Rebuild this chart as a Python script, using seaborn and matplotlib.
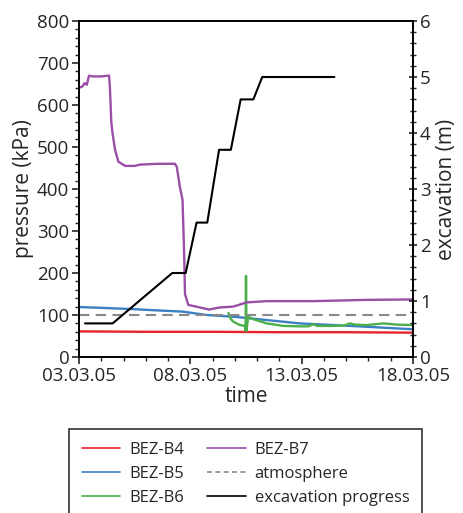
import matplotlib
matplotlib.use("Agg")
import matplotlib.pyplot as plt
import matplotlib.dates as mdates
from matplotlib.ticker import MultipleLocator
from matplotlib.lines import Line2D
import seaborn as sns
import pandas as pd

sns.set_style("white")
plt.rcParams['font.family'] = ['Open Sans', 'DejaVu Sans']

START = pd.Timestamp("2005-03-03")

# ---- data (days since 03.03.05) ----
b4_days = [0.0, 3.0, 6.0, 9.0, 12.0, 15.0]
b4_kpa = [61, 60, 60, 59, 59, 58]

b5_days = [0.0, 1.0, 2.43, 3.5, 4.67, 5.73, 6.93, 8.43, 9.92, 11.42, 12.92, 15.0]
b5_kpa = [119, 117, 114, 111, 108, 100, 96, 88, 80, 76, 72, 66]

b6_days = [6.71, 6.80, 6.93, 7.23, 7.45, 7.48, 7.50, 7.52, 7.60, 7.83, 8.43, 9.17,
           9.92, 10.3, 10.52, 10.7, 11.42, 11.9, 12.17, 12.4, 12.92, 13.67, 14.3, 15.0]
b6_kpa = [105, 92, 84, 76, 74, 62, 193, 62, 96, 90, 80, 74,
          73, 73, 78, 74, 74, 75, 80, 77, 76, 80, 77, 76]

b7_days = [0.0, 0.15, 0.25, 0.35, 0.45, 0.6, 1.0, 1.35, 1.39, 1.45, 1.5, 1.62, 1.77,
           2.07, 2.5, 2.74, 3.5, 4.31, 4.39, 4.53, 4.65, 4.72, 4.76, 4.91, 5.43,
           5.84, 6.33, 6.93, 7.53, 8.43, 10.52, 12.92, 15.0]
b7_kpa = [641, 644, 652, 648, 670, 668, 668, 670, 640, 560, 535, 493, 465,
          455, 455, 458, 460, 460, 453, 405, 374, 250, 150, 124, 118,
          113, 118, 120, 130, 133, 133, 136, 137]

atm_days = [0.0, 15.0]
atm_kpa = [100, 100]

exc_days = [0.27, 1.51, 4.19, 4.79, 5.28, 5.76, 6.29, 6.82, 7.26, 7.83, 8.23, 11.47]
exc_m = [0.6, 0.6, 1.5, 1.5, 2.4, 2.4, 3.7, 3.7, 4.6, 4.6, 5.0, 5.0]

xtick_labels = ["03.03.05", "08.03.05", "13.03.05", "18.03.05"]
xtick_days = [0, 5, 10, 15]

labels = ["BEZ-B4", "BEZ-B5", "BEZ-B6", "BEZ-B7", "atmosphere", "excavation progress"]
colors = ["#e8232b", "#3a80c3", "#4cb04a", "#9b4ea8", "#8a8a8a", "#000000"]


def to_dates(days):
    return START + pd.to_timedelta(days, unit="D")


fig = plt.figure(figsize=(4.63, 5.13), dpi=100)
ax = fig.add_axes([79 / 463, 1 - 357 / 513, (413 - 79) / 463, (357 - 21) / 513])
ax2 = ax.twinx()

series = [(b4_days, b4_kpa), (b5_days, b5_kpa), (b6_days, b6_kpa), (b7_days, b7_kpa)]
for (d, v), c in zip(series, colors[:4]):
    df = pd.DataFrame({"t": to_dates(d), "v": v})
    sns.lineplot(data=df, x="t", y="v", ax=ax, color=c, lw=1.7, legend=False)

df_atm = pd.DataFrame({"t": to_dates(atm_days), "v": atm_kpa})
sns.lineplot(data=df_atm, x="t", y="v", ax=ax, color=colors[4], lw=1.5,
             linestyle=(0, (5, 3)), legend=False)

df_exc = pd.DataFrame({"t": to_dates(exc_days), "v": exc_m})
sns.lineplot(data=df_exc, x="t", y="v", ax=ax2, color=colors[5], lw=1.5, legend=False)

ax.set_xlim(to_dates([0])[0], to_dates([15])[0])
ax.set_ylim(0, 800)
ax2.set_ylim(0, 6)
ax.set_xticks(to_dates(xtick_days))
ax.set_xticklabels(xtick_labels)
ax.xaxis.set_minor_locator(mdates.DayLocator())
ax.yaxis.set_major_locator(MultipleLocator(100))
ax.yaxis.set_minor_locator(MultipleLocator(20))
ax2.yaxis.set_major_locator(MultipleLocator(1))
ax2.yaxis.set_minor_locator(MultipleLocator(0.2))

for a in (ax, ax2):
    for s in a.spines.values():
        s.set_color("black")
        s.set_linewidth(1.2)
ax.tick_params(axis="both", which="major", direction="out", length=5, width=1.2,
               labelsize=13.5, pad=2, left=True, bottom=True)
ax.tick_params(axis="both", which="minor", direction="out", length=3, width=1.0,
               left=True, bottom=True)
ax2.tick_params(axis="y", which="major", direction="inout", length=6, width=1.2,
                labelsize=13.5, pad=2, right=True)
ax2.tick_params(axis="y", which="minor", direction="inout", length=4, width=1.0, right=True)

ax.set_xlabel("time", fontsize=15, labelpad=1)
ax.set_ylabel("pressure (kPa)", fontsize=15, labelpad=2)
ax2.set_ylabel("excavation (m)", fontsize=15, labelpad=4)
ax.grid(False)
ax2.grid(False)

handles = [
    Line2D([], [], color=colors[0], lw=1.2),
    Line2D([], [], color=colors[1], lw=1.2),
    Line2D([], [], color=colors[2], lw=1.2),
    Line2D([], [], color=colors[3], lw=1.2),
    Line2D([], [], color=colors[4], lw=1.2, linestyle=(0, (3, 2))),
    Line2D([], [], color=colors[5], lw=1.2),
]
leg = fig.legend(handles, labels, ncol=2, loc="upper left",
                 bbox_to_anchor=(69 / 463, 1 - 429 / 513), fontsize=12,
                 frameon=True, fancybox=False, edgecolor="black",
                 handlelength=2.3, handletextpad=0.55, columnspacing=1.4,
                 labelspacing=0.5, borderpad=0.75, borderaxespad=0)
leg.get_frame().set_linewidth(1.2)

fig.savefig("out.png", dpi=100)
